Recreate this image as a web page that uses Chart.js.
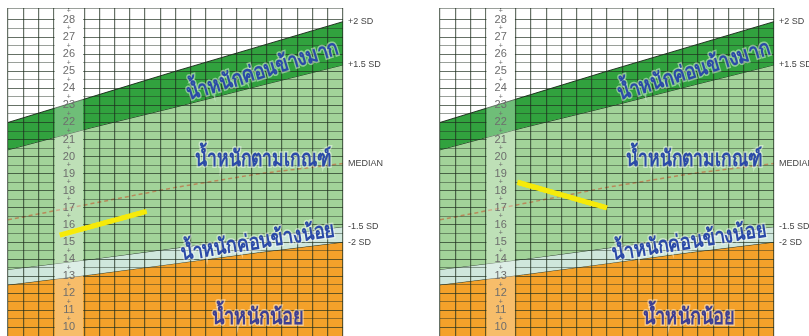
<!DOCTYPE html>
<html>
<head>
<meta charset="utf-8">
<script src="https://cdn.jsdelivr.net/npm/chart.js@4.4.0/dist/chart.umd.min.js"></script>
<style>
  html, body { margin: 0; padding: 0; background: #fff; }
  body { width: 809px; height: 336px; position: relative; overflow: hidden; }
  .panel { position: absolute; top: 0; height: 336px; }
  #leftBox { left: 0; width: 430px; }
  #rightBox { left: 430px; width: 379px; }
</style>
</head>
<body>
<div class="panel" id="leftBox"><canvas id="leftChart"></canvas></div>
<div class="panel" id="rightBox"><canvas id="rightChart"></canvas></div>
<script>
// SD curves at a few grid columns (x = column number)
const sdX       = [0, 5.5, 11, 16.5, 22];
const plus2SD   = [22.0, 23.5, 25.0, 26.45, 27.9];
const plus15SD  = [20.4, 21.7, 22.9, 24.15, 25.37];
const medianSD  = [16.3, 17.25, 18.2, 19.0, 19.6];
const minus15SD = [13.4, 14.0, 14.65, 15.3, 15.9];
const minus2SD  = [12.5, 13.1, 13.75, 14.4, 15.0];
const sdNames   = ['+2 SD', '+1.5 SD', 'MEDIAN', '-1.5 SD', '-2 SD'];
const yTickLabels = [10, 11, 12, 13, 14, 15, 16, 17, 18, 19, 20, 21, 22, 23, 24, 25, 26, 27, 28];
const zoneNames = ['น้ำหนักค่อนข้างมาก', 'น้ำหนักตามเกณฑ์', 'น้ำหนักค่อนข้างน้อย', 'น้ำหนักน้อย'];

// the child's weight line on each chart
const leftChildX  = [3.4, 9.1];
const leftChildY  = [15.4, 16.8];
const rightChildX = [5.1, 11.0];
const rightChildY = [18.5, 17.0];

// where the zone names sit (data coords), their tilt and width in px
const zoneSpots = [
  { x: 16.7, y: 25.0, angle: -17, width: 158 },
  { x: 16.75, y: 19.8, angle: 0, width: 136 },
  { x: 16.4, y: 15.0, angle: -9, width: 156 },
  { x: 16.4, y: 10.55, angle: 0, width: 92 }
];
const labelColumn = [3, 5]; // the strip holding the kg numbers

const edgeColor = 'rgba(20, 35, 20, 0.9)';
const gridColor = 'rgba(30, 45, 30, 0.68)';
const halfGridColor = 'rgba(30, 45, 30, 0.45)';

function toPoints(xs, ys) {
  return xs.map((x, i) => ({ x: x, y: ys[i] }));
}

const overlayPlugin = {
  id: 'overlay',
  afterDatasetsDraw(chart) {
    // keep the grid (drawn next, z:1) out of the label strip
    const { ctx, chartArea: area, scales: { x } } = chart;
    const c0 = x.getPixelForValue(labelColumn[0]);
    const c1 = x.getPixelForValue(labelColumn[1]);
    ctx.save();
    ctx.beginPath();
    ctx.rect(0, 0, chart.width, chart.height);
    ctx.rect(c0 + 1, area.top + 1, c1 - c0 - 2, area.bottom - area.top);
    ctx.clip('evenodd');
  },
  afterDraw(chart) {
    const { ctx, chartArea: area, scales: { x, y } } = chart;
    ctx.restore();

    const c0 = x.getPixelForValue(labelColumn[0]);
    const c1 = x.getPixelForValue(labelColumn[1]);
    const cx = (c0 + c1) / 2;

    ctx.save();
    ctx.fillStyle = 'rgba(255, 255, 255, 0.3)';
    ctx.fillRect(c0 + 1, area.top + 1, c1 - c0 - 2, area.bottom - area.top);

    // kg numbers and the little + marks between them
    ctx.textAlign = 'center';
    ctx.textBaseline = 'middle';
    yTickLabels.forEach(v => {
      ctx.fillStyle = '#6d6d6d';
      ctx.font = '11px "Liberation Sans", sans-serif';
      ctx.fillText(String(v), cx, y.getPixelForValue(v));
      ctx.font = '7px "Liberation Sans", sans-serif';
      ctx.fillText('+', cx, y.getPixelForValue(v + 0.5));
    });

    // SD names at the right end of each curve
    const ends = [plus2SD, plus15SD, medianSD, minus15SD, minus2SD];
    ctx.textAlign = 'left';
    ctx.fillStyle = '#444';
    ctx.font = '9px "Liberation Sans", sans-serif';
    ends.forEach((arr, i) => {
      ctx.fillText(sdNames[i], area.right + 5, y.getPixelForValue(arr[arr.length - 1]));
    });

    // zone names
    zoneSpots.forEach((s, i) => {
      ctx.save();
      ctx.translate(x.getPixelForValue(s.x), y.getPixelForValue(s.y));
      ctx.rotate(s.angle * Math.PI / 180);
      ctx.font = 'bold 22px "Noto Sans", "DejaVu Sans", sans-serif';
      ctx.textAlign = 'center';
      ctx.textBaseline = 'middle';
      const w = ctx.measureText(zoneNames[i]).width;
      ctx.scale(s.width / w, 1);
      ctx.lineWidth = 3;
      ctx.strokeStyle = 'rgba(255, 255, 255, 0.45)';
      ctx.strokeText(zoneNames[i], 0, 0);
      ctx.fillStyle = i === 3 ? '#3d3f94' : '#2b4aa8';
      ctx.fillText(zoneNames[i], 0, 0);
      ctx.restore();
    });
    ctx.restore();

    // child's line back on top of the grid
    const meta = chart.getDatasetMeta(5);
    ctx.save();
    ctx.beginPath();
    ctx.rect(area.left, area.top, area.right - area.left, area.bottom - area.top);
    ctx.clip();
    meta.dataset.draw(ctx, area);
    ctx.restore();
  }
};

function makeChart(canvasId, childX, childY, pad) {
  const ctx = document.getElementById(canvasId).getContext('2d');
  return new Chart(ctx, {
    type: 'line',
    data: {
      datasets: [
        { data: toPoints(sdX, plus2SD), borderColor: edgeColor, borderWidth: 1,
          backgroundColor: '#31a23e', fill: '+1', pointRadius: 0 },
        { data: toPoints(sdX, plus15SD), borderColor: edgeColor, borderWidth: 1,
          backgroundColor: '#a2d399', fill: 3, pointRadius: 0 },
        { data: toPoints(sdX, medianSD), borderColor: '#b8895a', borderWidth: 1.5,
          borderDash: [4, 3], fill: false, pointRadius: 0, order: -1 },
        { data: toPoints(sdX, minus15SD), borderColor: edgeColor, borderWidth: 1,
          backgroundColor: '#cfe7dc', fill: '+1', pointRadius: 0 },
        { data: toPoints(sdX, minus2SD), borderColor: edgeColor, borderWidth: 1,
          backgroundColor: '#f4a12a', fill: 'start', pointRadius: 0 },
        { data: toPoints(childX, childY), borderColor: '#f6ea0a', borderWidth: 5,
          fill: false, pointRadius: 0, order: -2 }
      ]
    },
    options: {
      responsive: true,
      maintainAspectRatio: false,
      animation: false,
      layout: { padding: pad },
      plugins: { legend: { display: false }, tooltip: { enabled: false } },
      scales: {
        x: {
          type: 'linear', min: 0, max: 22,
          ticks: { display: false, stepSize: 1 },
          grid: { color: gridColor, lineWidth: 1.2, drawTicks: false, z: 1 },
          border: { display: false }
        },
        y: {
          min: 9.5, max: 28.7,
          ticks: { display: false, stepSize: 0.5 },
          grid: {
            color: c => (c.tick && Number.isInteger(c.tick.value)) ? gridColor : halfGridColor,
            lineWidth: 1, drawTicks: false, z: 1
          },
          border: { display: false }
        }
      }
    },
    plugins: [overlayPlugin]
  });
}

makeChart('leftChart', leftChildX, leftChildY, { left: 8, right: 87, top: 8, bottom: 0 });
makeChart('rightChart', rightChildX, rightChildY, { left: 10, right: 35, top: 8, bottom: 0 });
</script>
</body>
</html>
